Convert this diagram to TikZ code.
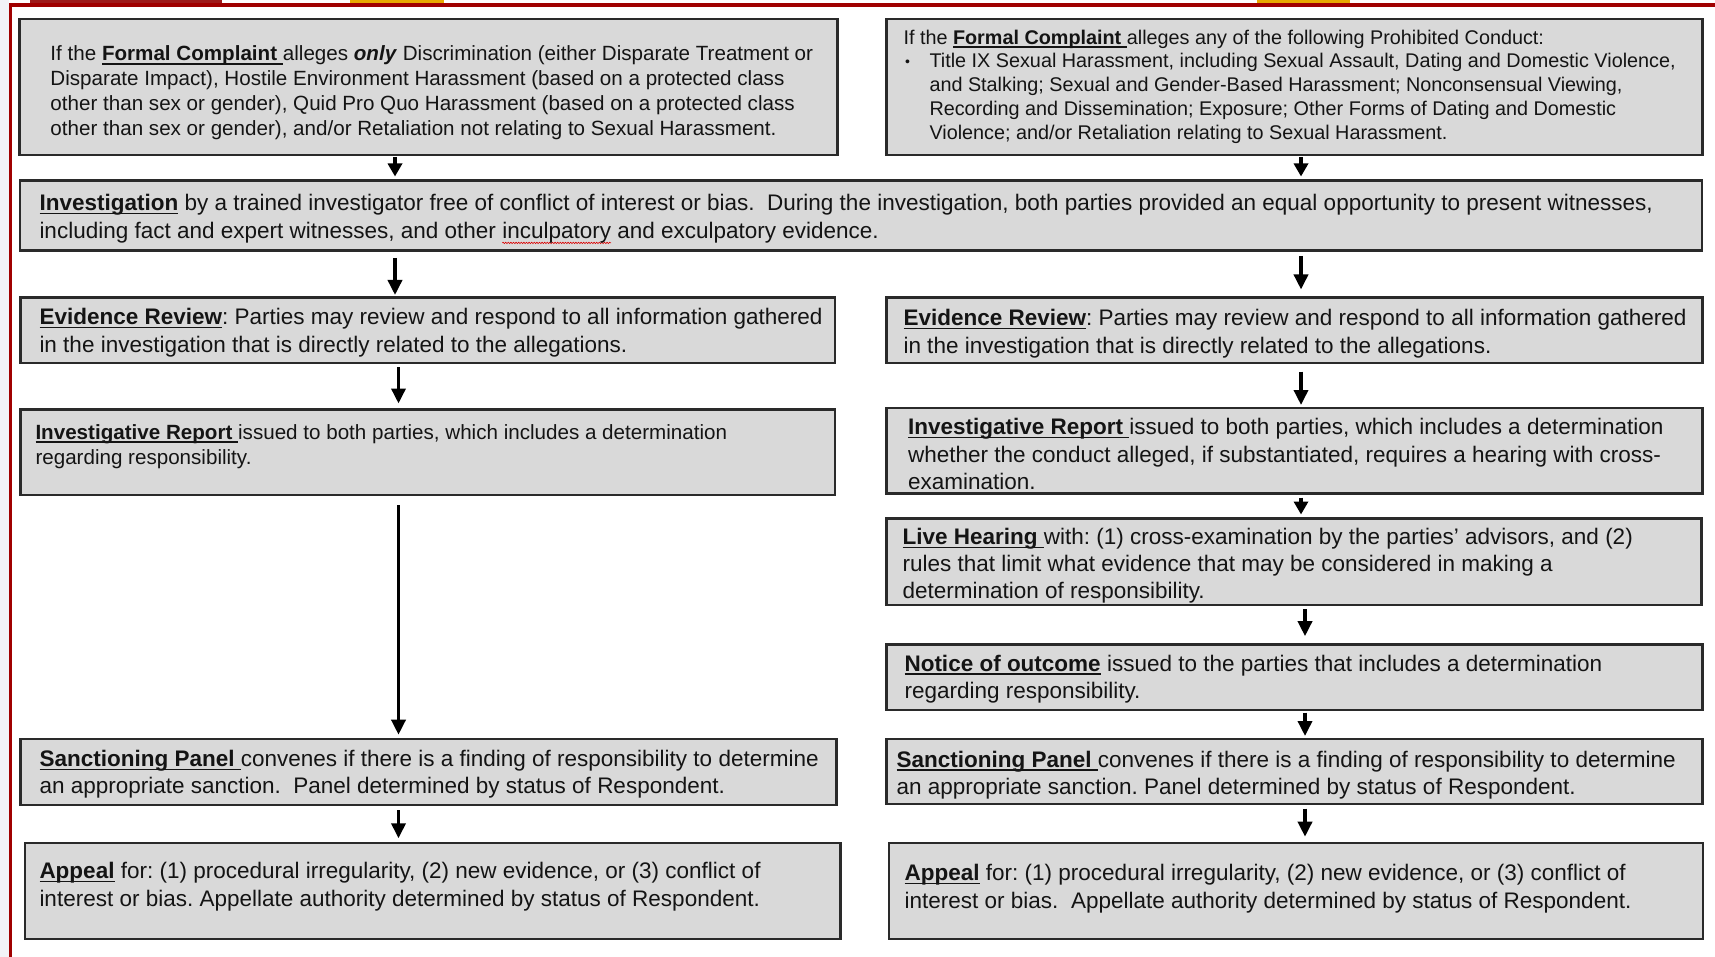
\documentclass[tikz,border=0pt]{standalone}
\usepackage{fontspec}
\setmainfont{Liberation Sans}
\usepackage{xcolor}
\usetikzlibrary{arrows.meta,decorations.pathmorphing}
\definecolor{boxfill}{HTML}{D9D9D9}
\definecolor{boxline}{HTML}{2A2A2A}
\definecolor{txt}{HTML}{141414}
\definecolor{redline}{HTML}{A00000}
\definecolor{darkred}{HTML}{9E1B1B}
\definecolor{gold}{HTML}{E8A900}
\definecolor{leftstrip}{HTML}{F2F3F7}
\frenchspacing
\newlength\ullen
\newlength\wvlen
% underlined bold title
\newcommand\ttl[1]{\leavevmode\settowidth\ullen{\textbf{#1}}\rlap{\rule[-3.6pt]{\ullen}{1.4pt}}\textbf{#1}}
% underlined bold title with trailing underlined space
\newcommand\ttls[1]{\leavevmode\settowidth\ullen{\textbf{#1}\kern0.28em}\rlap{\rule[-3.6pt]{\ullen}{1.4pt}}\textbf{#1}\kern0.28em}
% red spell-check wave
\newcommand\redwave[1]{\leavevmode\settowidth\wvlen{#1}\rlap{\tikz[overlay,x=1cm,y=1cm]\draw[red!85!black, line width=0.6pt, decorate, decoration={snake, amplitude=0.7pt, segment length=2.6pt}] (0pt,-4.5pt) -- (\wvlen,-4.5pt);}#1}
% H, W, left pad, first baseline, text
\newcommand\bx[5]{\parbox[c][#1][t]{#2}{\leftskip=#3\rightskip=-40pt plus 1fil\parindent=0pt\rule{0pt}{#4}#5}}
\tikzset{
  box/.style={draw=boxline, fill=boxfill, line width=2.2pt, inner sep=0pt, outer sep=0pt, anchor=north west, text=txt},
  arr/.style={line width=3.5pt, -{Triangle[width=14pt,length=15pt]}},
  sarr/.style={line width=3.5pt, -{Triangle[width=14pt,length=13pt]}},
}
\begin{document}
\begin{tikzpicture}[x=1pt,y=-1pt]
\useasboundingbox (0,0) rectangle (1715,957);
\fill[white] (0,0) rectangle (1715,957);
% page decorations
\fill[leftstrip] (0,0) rectangle (8.5,957);
\fill[redline] (8.5,3.3) rectangle (12,957);
\fill[redline] (8.5,3.3) rectangle (1715,6.7);
\fill[darkred] (30,0) rectangle (222,3.5);
\fill[gold] (350,0) rectangle (444,3.5);
\fill[gold] (1257,0) rectangle (1350,3.5);

% boxes
\node[box, font=\fontsize{20.6}{25}\selectfont] (A) at (19.5,19) {\bx{136pt}{818pt}{31pt}{42pt}{%
If the \ttls{Formal Complaint}alleges \textbf{\textit{only}} Discrimination (either Disparate Treatment or\\
Disparate Impact), Hostile Environment Harassment (based on a protected class\\
other than sex or gender), Quid Pro Quo Harassment (based on a protected class\\
other than sex or gender), and/or Retaliation not relating to Sexual Harassment.}};

\node[box, font=\fontsize{19.8}{23.7}\selectfont] (B) at (886.5,19) {\bx{136pt}{816pt}{17pt}{25.3pt}{%
If the \ttls{Formal Complaint}alleges any of the following Prohibited Conduct:\par
\hangindent=26pt\hangafter=1\makebox[26pt][l]{\hspace{1.5pt}{\fontsize{14}{14}\selectfont\raisebox{1pt}{•}}}Title IX Sexual Harassment, including Sexual Assault, Dating and Domestic Violence,\newline
and Stalking; Sexual and Gender-Based Harassment; Nonconsensual Viewing,\newline
Recording and Dissemination; Exposure; Other Forms of Dating and Domestic\newline
Violence; and/or Retaliation relating to Sexual Harassment.}};

\node[box, font=\fontsize{22.5}{28}\selectfont] (Inv) at (20,180.5) {\bx{70pt}{1682pt}{19.5pt}{29.9pt}{%
\ttl{Investigation} by a trained investigator free of conflict of interest or bias.\ \ During the investigation, both parties provided an equal opportunity to present witnesses,\\
including fact and expert witnesses, and other \redwave{inculpatory} and exculpatory evidence.}};

\node[box, font=\fontsize{22.5}{28}\selectfont] (ERL) at (20.5,297.5) {\bx{65.5pt}{814.5pt}{19pt}{26.9pt}{%
\ttl{Evidence Review}: Parties may review and respond to all information gathered\\
in the investigation that is directly related to the allegations.}};

\node[box, font=\fontsize{22.5}{28}\selectfont] (ERR) at (886.5,297.5) {\bx{65.5pt}{816pt}{17pt}{28.1pt}{%
\ttl{Evidence Review}: Parties may review and respond to all information gathered\\
in the investigation that is directly related to the allegations.}};

\node[box, font=\fontsize{20.6}{25}\selectfont] (IRL) at (20.5,409.5) {\bx{85.5pt}{814.5pt}{15pt}{29.6pt}{%
\ttls{Investigative Report}issued to both parties, which includes a determination\\
regarding responsibility.}};

\node[box, font=\fontsize{22.5}{27.6}\selectfont] (IRR) at (886.5,408) {\bx{85.5pt}{816pt}{21.5pt}{26.4pt}{%
\ttls{Investigative Report}issued to both parties, which includes a determination\\
whether the conduct alleged, if substantiated, requires a hearing with cross-\\
examination.}};

\node[box, font=\fontsize{22.5}{27}\selectfont] (LH) at (886.5,518.5) {\bx{86.5pt}{815pt}{16pt}{26.1pt}{%
\ttls{Live Hearing}with: (1) cross-examination by the parties’ advisors, and (2)\\
rules that limit what evidence that may be considered in making a\\
determination of responsibility.}};

\node[box, font=\fontsize{22.5}{27}\selectfont] (NO) at (886.5,644.5) {\bx{65.5pt}{816pt}{18pt}{26.6pt}{%
\ttl{Notice of outcome} issued to the parties that includes a determination\\
regarding responsibility.}};

\node[box, font=\fontsize{22.5}{27.5}\selectfont] (SPL) at (20.5,739) {\bx{66pt}{816pt}{19pt}{27.4pt}{%
\ttls{Sanctioning Panel}convenes if there is a finding of responsibility to determine\\
an appropriate sanction.\ \ Panel determined by status of Respondent.}};

\node[box, font=\fontsize{22.5}{27.3}\selectfont] (SPR) at (886.5,738.7) {\bx{65pt}{816pt}{10pt}{28.4pt}{%
\ttls{Sanctioning Panel}convenes if there is a finding of responsibility to determine\\
an appropriate sanction. Panel determined by status of Respondent.}};

\node[box, font=\fontsize{22.5}{28}\selectfont] (APL) at (24.7,842.7) {\bx{96.6pt}{815.7pt}{14.8pt}{35.6pt}{%
\ttl{Appeal} for: (1) procedural irregularity, (2) new evidence, or (3) conflict of\\
interest or bias. Appellate authority determined by status of Respondent.}};

\node[box, font=\fontsize{22.5}{28.5}\selectfont] (APR) at (889,843.3) {\bx{96pt}{814pt}{15.7pt}{37pt}{%
\ttl{Appeal} for: (1) procedural irregularity, (2) new evidence, or (3) conflict of\\
interest or bias.\ \ Appellate authority determined by status of Respondent.}};

% arrow columns
\coordinate (xa) at (395,0);
\coordinate (xb) at (398.5,0);
\coordinate (xc) at (1301,0);
\coordinate (xd) at (1305,0);

\draw[sarr, shorten <=2pt, shorten >=4pt] (A.south -| xa) -- (Inv.north -| xa);
\draw[sarr, shorten <=2pt, shorten >=4pt] (B.south -| xc) -- (Inv.north -| xc);
\draw[arr, shorten <=7.5pt, shorten >=2.5pt] (Inv.south -| xa) -- (ERL.north -| xa);
\draw[arr, shorten <=5.3pt, shorten >=8pt] (Inv.south -| xc) -- (ERR.north -| xc);
\draw[arr, shorten <=4pt, shorten >=6pt] (ERL.south -| xb) -- (IRL.north -| xb);
\draw[arr, shorten <=8.7pt, shorten >=3pt] (ERR.south -| xc) -- (IRR.north -| xc);
\draw[arr, shorten <=10pt, shorten >=4.3pt] (IRL.south -| xb) -- (SPL.north -| xb);
\draw[sarr, shorten <=4pt, shorten >=4pt] (IRR.south -| xc) -- (LH.north -| xc);
\draw[arr, shorten <=4.3pt, shorten >=8.3pt] (LH.south -| xd) -- (NO.north -| xd);
\draw[arr, shorten <=2.7pt, shorten >=2.7pt] (NO.south -| xd) -- (SPR.north -| xd);
\draw[arr, shorten <=5pt, shorten >=4.4pt] (SPL.south -| xb) -- (APL.north -| xb);
\draw[arr, shorten <=5pt, shorten >=6.6pt] (SPR.south -| xd) -- (APR.north -| xd);
\end{tikzpicture}
\end{document}
